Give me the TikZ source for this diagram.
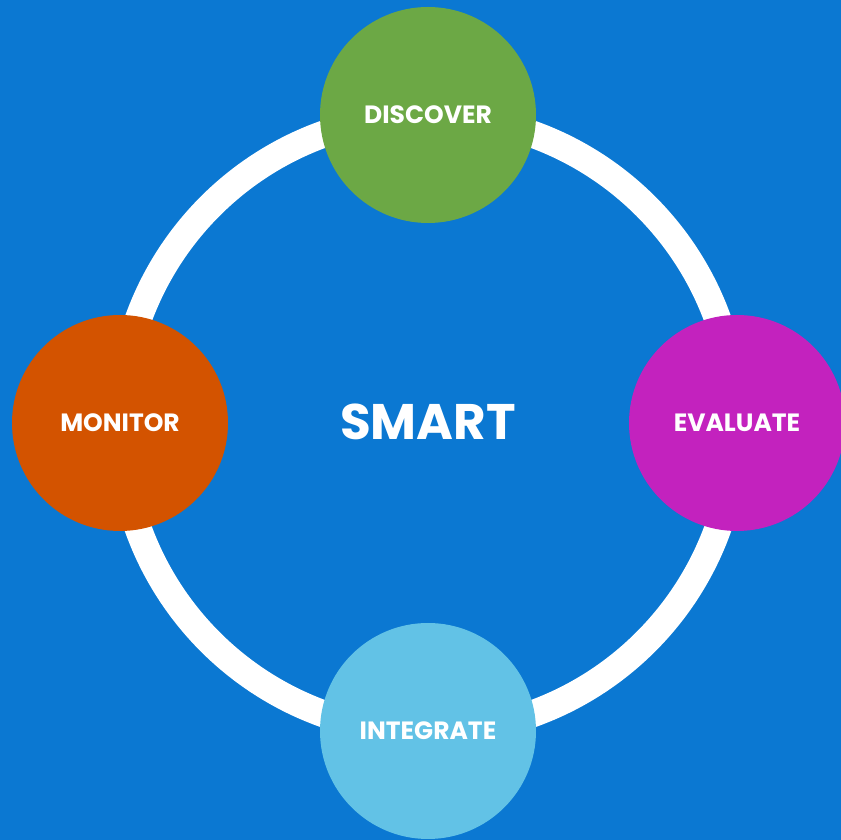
\documentclass[tikz,border=0pt]{standalone}
\usepackage{fontspec}
\setmainfont{Poppins}
\usepackage{xcolor}
\usepackage{tikz}
\usetikzlibrary{positioning}
\definecolor{bgblue}{RGB}{11, 120, 210}
\definecolor{discovergreen}{RGB}{108, 168, 69}
\definecolor{evaluatepink}{RGB}{195, 34, 190}
\definecolor{integrateblue}{RGB}{98, 194, 230}
\definecolor{monitororange}{RGB}{211, 83, 0}
\tikzset{
    stage/.style={circle, minimum size=216pt, inner sep=0pt, text=white, font=\bfseries\fontsize{25}{28}\selectfont}
}

\begin{document}
\begin{tikzpicture}[x=1pt, y=1pt]
            % Background
            \fill[bgblue] (0,0) rectangle (841,840);
            \useasboundingbox (0,0) rectangle (841,840);

            % Cycle ring
            \node (center) at (428,416) {};
            \draw[white, line width=27pt] (center) circle (308);

            % Stages
            \node[stage, fill=discovergreen] (discover) at (428,725) {DISCOVER};
            \node[stage, fill=evaluatepink] (evaluate) at (737,417) {EVALUATE};
            \node[stage, fill=integrateblue] (integrate) at (428,109) {INTEGRATE};
            \node[stage, fill=monitororange] (monitor) at (120,417) {MONITOR};

            % Title
            \node[text=white, font=\bfseries\fontsize{50}{56}\selectfont] (title) at (428,418) {SMART};
        \end{tikzpicture}
\end{document}
